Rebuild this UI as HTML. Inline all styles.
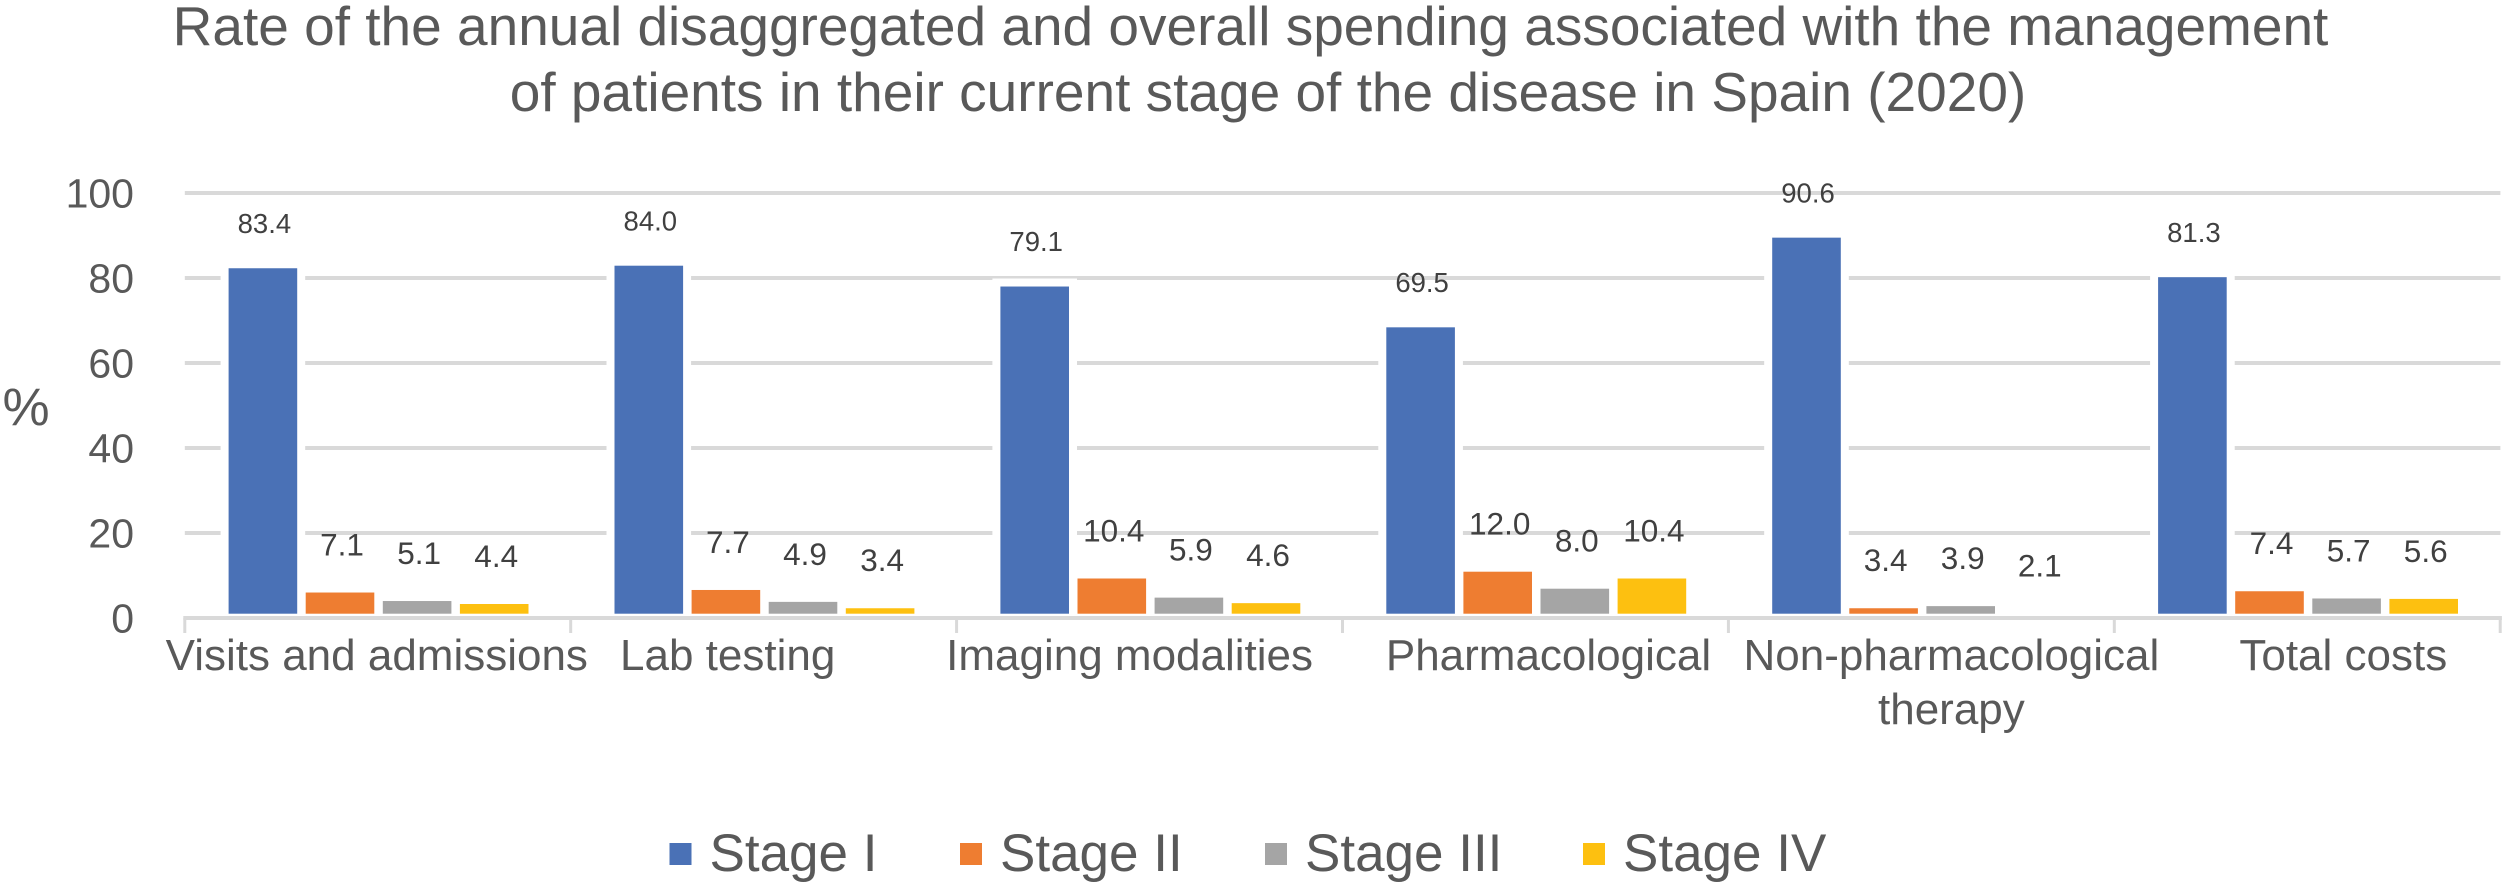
<!DOCTYPE html>
<html lang="en">
<head>
<meta charset="utf-8">
<title>Rate of annual spending by disease stage</title>
<style>
html,body{margin:0;padding:0;background:#fff;}
body{width:2506px;height:887px;overflow:hidden;}
svg{display:block;}
text{font-family:"Liberation Sans",Arial,sans-serif;}
</style>
</head>
<body>
<svg id="chart" xmlns="http://www.w3.org/2000/svg" width="2506" height="887" viewBox="0 0 2506 887">
  <rect x="0" y="0" width="2506" height="887" fill="#ffffff"/>
  <text x="1250.5" y="45" font-size="55" fill="#595959" text-anchor="middle">Rate of the annual disaggregated and overall spending associated with the management</text>
  <text x="1268" y="111" font-size="55" fill="#595959" text-anchor="middle">of patients in their current stage of the disease in Spain (2020)</text>
  <text x="2.5" y="425" font-size="53" fill="#595959">%</text>
  <g id="grid"></g>
  <g id="halos"></g>
  <g id="axis"></g>
  <g id="bars"></g>
  <g id="valueLabels"></g>
  <g id="yTicks"></g>
  <g id="xLabels"></g>
  <g id="legend"></g>
</svg>
<script>
var categories = [
  ["Visits and admissions"],
  ["Lab testing"],
  ["Imaging modalities"],
  ["Pharmacological"],
  ["Non-pharmacological", "therapy"],
  ["Total costs"]
];
var seriesNames = ["Stage I", "Stage II", "Stage III", "Stage IV"];
var stageI = [83.4, 84.0, 79.1, 69.5, 90.6, 81.3];
var stageII = [7.1, 7.7, 10.4, 12.0, 3.4, 7.4];
var stageIII = [5.1, 4.9, 5.9, 8.0, 3.9, 5.7];
var stageIV = [4.4, 3.4, 4.6, 10.4, 2.1, 5.6];
var yTickValues = [0, 20, 40, 60, 80, 100];

var seriesValues = [stageI, stageII, stageIII, stageIV];
var seriesColors = ["#4a71b6", "#ee7d31", "#a5a5a5", "#fdc010"];
var seriesKeys = ["stage-i", "stage-ii", "stage-iii", "stage-iv"];
var labelNudge = [-1, -36, -20, 13, 30, 36];
var legendX = [669.5, 960, 1265, 1583];
var NS = "http://www.w3.org/2000/svg";
var BAR_FLOOR = 613.7;

function make(tag, parent, attrs, text) {
  var el = document.createElementNS(NS, tag);
  for (var k in attrs) el.setAttribute(k, attrs[k]);
  if (text !== undefined) el.textContent = text;
  parent.appendChild(el);
  return el;
}
function yAxis(v) { return 618 - 4.25 * v; }
function groupX(i) { return 184.8 + 385.9 * i; }
function barX(i, s) { return groupX(i) + 43.8 + 77.1 * s; }
function barTop(v) { return Math.min(yAxis(v) + 4.7, BAR_FLOOR); }

var grid = document.getElementById("grid");
var yTicks = document.getElementById("yTicks");
yTickValues.forEach(function (t) {
  if (t > 0) {
    var line = make("rect", grid, {x: 184.8, y: yAxis(t) - 2, width: 2315.6, height: 4, fill: "#d9d9d9"});
    
    
  }
  var lab = make("text", yTicks, {x: 134, y: yAxis(t) + 14.5, "font-size": 41, fill: "#595959", "text-anchor": "end"}, String(t));
  
  
});

var axis = document.getElementById("axis");
var axisLine = make("rect", axis, {x: 183.3, y: yAxis(0) - 2, width: 2318.6, height: 4, fill: "#d9d9d9"});


for (var g = 0; g <= categories.length; g++) {
  var tick = make("rect", axis, {x: groupX(g) - 1.5, y: yAxis(0), width: 3, height: 15, fill: "#d9d9d9"});
  
  
}

var halos = document.getElementById("halos");
var bars = document.getElementById("bars");
var valueLabels = document.getElementById("valueLabels");
seriesValues.forEach(function (values, s) {
  values.forEach(function (v, i) {
    var x = barX(i, s), top = barTop(v), w = 68.6;
    var halo = make("rect", halos, {x: x - 8, y: top - 8, width: w + 16, height: BAR_FLOOR - top + 8, fill: "#ffffff"});
    
    
    var bar = make("rect", bars, {x: x, y: top, width: w, height: BAR_FLOOR - top, fill: seriesColors[s]});
    
    
    var isMain = s === 0;
    var label = make("text", valueLabels, {
      x: x + w / 2 + (isMain ? 1.5 : 2),
      y: (isMain ? 587.4 : 585.6) - 4.25 * v,
      "font-size": isMain ? 27.5 : 31.5,
      fill: "#404040",
      "text-anchor": "middle"
    }, v.toFixed(1));
    
    
  });
});

var xLabels = document.getElementById("xLabels");
categories.forEach(function (lines, i) {
  lines.forEach(function (line, n) {
    var cx = groupX(i) + 193 + labelNudge[i];
    var t = make("text", xLabels, {x: cx, y: 670 + 54 * n, "font-size": 44, fill: "#595959", "text-anchor": "middle"}, line);
    
    
  });
});

var legend = document.getElementById("legend");
seriesNames.forEach(function (name, s) {
  var swatch = make("rect", legend, {x: legendX[s], y: 843, width: 22, height: 22, fill: seriesColors[s]});
  
  
  var t = make("text", legend, {x: legendX[s] + 40, y: 871, "font-size": 53, fill: "#595959"}, name);
  
  
});
</script>
</body>
</html>
